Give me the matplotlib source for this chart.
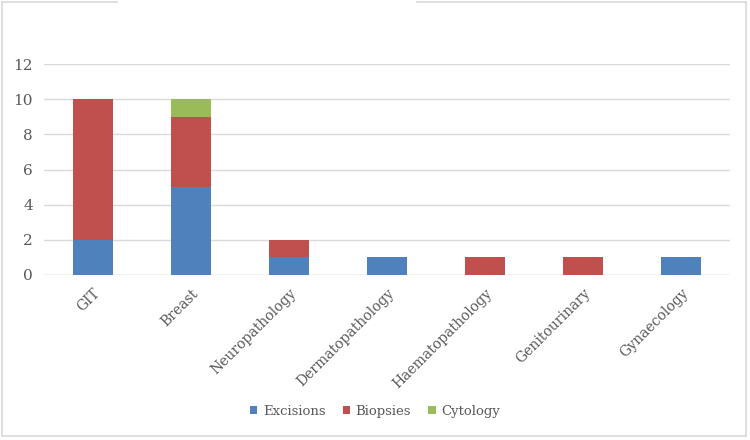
import matplotlib
matplotlib.use("Agg")
import matplotlib.pyplot as plt
import numpy as np
from matplotlib.lines import Line2D

categories = ["GIT", "Breast", "Neuropathology", "Dermatopathology",
              "Haematopathology", "Genitourinary", "Gynaecology"]
excisions = [2, 5, 1, 1, 0, 0, 1]
biopsies = [8, 4, 1, 0, 1, 1, 0]
cytology = [0, 1, 0, 0, 0, 0, 0]
yticks = [0, 2, 4, 6, 8, 10, 12]

plt.rcParams['font.family'] = ['DejaVu Serif']
text_color = '#595959'

fig = plt.figure(figsize=[7.5, 4.4], dpi=100)
ax = fig.add_axes([0.0587, 0.375, 0.9147, 0.4795])

x = np.arange(len(categories))
exc = np.array(excisions)
bio = np.array(biopsies)
cyt = np.array(cytology)
w = 0.4
ax.bar(x, exc, w, color='#4F81BD', label='Excisions', zorder=3)
ax.bar(x, bio, w, bottom=exc, color='#C0504D', label='Biopsies', zorder=3)
ax.bar(x, cyt, w, bottom=exc + bio, color='#9BBB59', label='Cytology', zorder=3)

ax.set_xlim(-0.5, len(categories) - 0.5)
ax.set_ylim(0, 12)
ax.set_yticks(yticks)
ax.yaxis.grid(True, color='#D9D9D9', linewidth=1, zorder=0)
for s in ax.spines.values():
    s.set_visible(False)
ax.tick_params(axis='both', length=0, colors=text_color, labelsize=11)
ax.tick_params(axis='y', pad=8)
ax.set_xticks(x)
ax.set_xticklabels(categories, rotation=45, ha='right', rotation_mode='anchor', fontsize=10)
ax.tick_params(axis='x', pad=8)
ax.axhline(0, color='#D9D9D9', linewidth=1, zorder=2)

leg = fig.legend(loc='center', bbox_to_anchor=(0.5, 1 - 411 / 440), ncol=3, frameon=False,
                 fontsize=9.5, handlelength=0.6, handleheight=0.6, handletextpad=0.4,
                 columnspacing=1.3)
for t in leg.get_texts():
    t.set_color(text_color)

# outer chart frame with gap where the title was
fc = '#D9D9D9'
def fline(xs, ys):
    fig.add_artist(Line2D([v / 750 for v in xs], [1 - v / 440 for v in ys],
                          color=fc, linewidth=1.2, transform=fig.transFigure))
fline([2, 2], [2, 436])
fline([2, 746], [436, 436])
fline([746, 746], [2, 436])
fline([2, 117], [2, 2])
fline([417, 746], [2, 2])

plt.savefig('out.png')
